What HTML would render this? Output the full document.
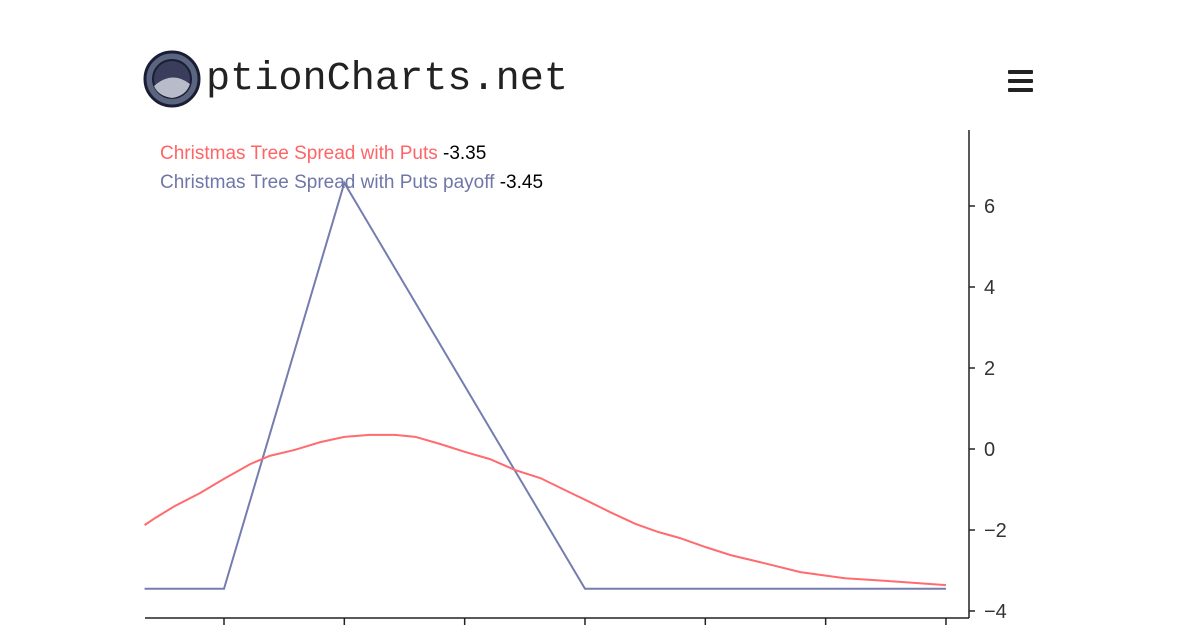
<!DOCTYPE html>
<html><head><meta charset="utf-8"><style>
body{margin:0;width:1201px;height:630px;background:#fff;overflow:hidden;font-family:"Liberation Sans",sans-serif}
</style></head><body>
<svg width="1201" height="630">
<g>
<circle cx="172" cy="79" r="27" fill="#5a6580" stroke="#1a1d33" stroke-width="3"/>
<circle cx="172" cy="79" r="19" fill="#3a3d5c" stroke="#1a1d33" stroke-width="2"/>
<path d="M154,86 Q172,70 190,84 Q186,96 172,98 Q158,96 154,86Z" fill="#b8bcc8"/>
<text x="206" y="89" font-family="Liberation Mono,monospace" font-size="40" fill="#222" textLength="362" lengthAdjust="spacingAndGlyphs">ptionCharts.net</text>
</g>
<g fill="#222">
<rect x="1008" y="70" width="25" height="4" rx="1"/><rect x="1008" y="79" width="25" height="4" rx="1"/><rect x="1008" y="88" width="25" height="4" rx="1"/>
</g>
<g id="chart"></g>
<g font-size="19">
<text x="160" y="159"><tspan fill="#ff6466">Christmas Tree Spread with Puts</tspan><tspan fill="#000"> -3.35</tspan></text>
<text x="160" y="188"><tspan fill="#6f77a8">Christmas Tree Spread with Puts payoff</tspan><tspan fill="#000"> -3.45</tspan></text>
</g>
</svg>
<script>
const priceX=[0.34,0.43,0.59,0.80,1.01,1.22,1.38,1.59,1.80,2.0,2.21,2.42,2.59,2.80,3.0,3.21,3.42,3.63,3.83,4.04,4.21,4.42,4.61,4.79,5.0,5.21,5.45,5.79,6.16,6.62,7.0];
const priceY=[-1.88,-1.70,-1.41,-1.09,-0.72,-0.37,-0.17,-0.02,0.17,0.30,0.35,0.35,0.30,0.12,-0.07,-0.25,-0.52,-0.72,-1.01,-1.31,-1.56,-1.85,-2.05,-2.20,-2.42,-2.62,-2.79,-3.04,-3.19,-3.28,-3.36];
const payoffX=[0.34,1,2,4,7];
const payoffY=[-3.45,-3.45,6.57,-3.45,-3.45];
const yTicks=[-4,-2,0,2,4,6];
const xTicks=[1,2,3,4,5,6,7];
const sx=v=>224+(v-1)*120.33;
const sy=v=>449-v*40.5;
const NS="http://www.w3.org/2000/svg";
const g=document.getElementById('chart');
function mk(t,a){const e=document.createElementNS(NS,t);for(const k in a)e.setAttribute(k,a[k]);g.appendChild(e);return e;}
let e=mk('path',{d:'M145,618H969M969,130V618',stroke:'#222','stroke-width':1.5,fill:'none'});


xTicks.forEach(t=>{const l=mk('line',{x1:sx(t),x2:sx(t),y1:618,y2:625,stroke:'#222','stroke-width':1.5});

});
yTicks.forEach(t=>{const l=mk('line',{x1:969,x2:975,y1:sy(t),y2:sy(t),stroke:'#222','stroke-width':1.5});


const tx=mk('text',{x:984,y:sy(t)+7,'font-size':20,fill:'#333'});tx.textContent=(t<0?'\u2212'+(-t):t);

});
function line(xs,ys,c,n){const p=mk('path',{d:xs.map((x,i)=>(i?'L':'M')+sx(x)+','+sy(ys[i])).join(''),stroke:c,'stroke-width':2,fill:'none'});

}
line(payoffX,payoffY,'#757daf','payoff-line');
line(priceX,priceY,'#ff6b6e','price-line');
</script>
</body></html>
